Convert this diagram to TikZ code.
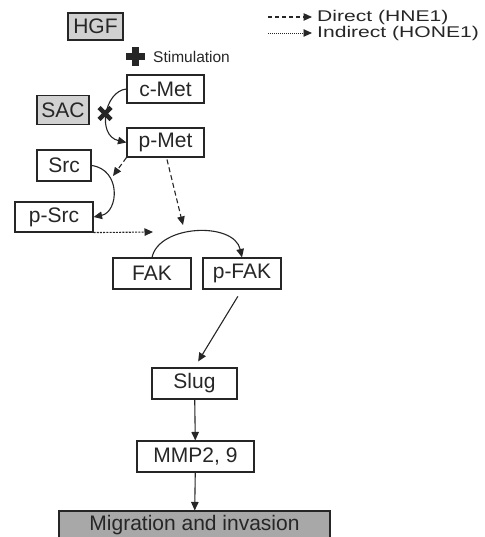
\documentclass[tikz,border=0pt]{standalone}
\usepackage{fontspec}
\setmainfont{Liberation Sans}
\usetikzlibrary{arrows.meta,calc}
\begin{document}
\begin{tikzpicture}[x=1pt,y=-1pt,
 box/.style={draw=black!85, line width=1.1pt, inner sep=0pt, font=\fontsize{21}{24}\selectfont, text=black!85},
 gbox/.style={box, fill=black!18},
 arr/.style={-{Triangle[length=8.5pt,width=7.5pt]}, line width=1.1pt, draw=black!85},
 direct/.style={arr, dash pattern=on 5pt off 3pt},
 indirect/.style={arr, dash pattern=on 2pt off 1.2pt},
 lbl/.style={font=\fontsize{21}{24}\selectfont, anchor=west, inner sep=0pt, text=black!85}]
\useasboundingbox (0,0) rectangle (484,537);
% boxes
\node[gbox, minimum width=55pt, minimum height=27pt] (hgf) at (95.5,26.5) {HGF};
\node[box, minimum width=77pt, minimum height=28pt] (cmet) at (165.5,89) {c-Met};
\node[gbox, minimum width=52pt, minimum height=29pt] (sac) at (63,110) {SAC};
\node[box, minimum width=77pt, minimum height=29pt] (pmet) at (165.5,142.5) {p-Met};
\node[box, minimum width=54pt, minimum height=31pt] (src) at (64,165.5) {Src};
\node[box, minimum width=78pt, minimum height=30pt] (psrc) at (54,217) {p-Src};
\node[box, minimum width=78pt, minimum height=31pt] (fak) at (152,273.5) {FAK};
\node[box, minimum width=78pt, minimum height=31pt] (pfak) at (242,273.5) {p-FAK};
\node[box, minimum width=85pt, minimum height=31pt] (slug) at (194.5,383.5) {Slug};
\node[box, minimum width=117pt, minimum height=31pt] (mmp) at (195.5,456.5) {MMP2, 9};
\node[box, fill=black!34, minimum width=271pt, minimum height=28pt] (mig) at (194.5,525) {Migration and invasion};
% stimulation mark
\fill[black!85] (135.5,56.5) ++(-9.5,-3.8) rectangle ++(19,7.6);
\fill[black!85] (135.5,56.5) ++(-3.8,-9.5) rectangle ++(7.6,19);
\node[lbl, font=\fontsize{15.5}{18}\selectfont] (stim) at (153,56.5) {Stimulation};
% inhibition mark
\draw[line width=4.5pt, black!85] (99,107.5) -- (111,119.5) (111,107.5) -- (99,119.5);
% connectors
\coordinate (srcin) at (113,176);
\coordinate (fakin) at (183,225);
\coordinate (psrcout) at (153,232);
\draw[arr] (cmet.west) .. controls +(-22,2) and +(-30,-7) .. (pmet.west);
\draw[arr] (src.east) .. controls +(30,4) and +(25,-5) .. (psrc.east);
\draw[arr] (fak.north) .. controls +(7,-33) and +(-8,-36) .. (pfak.north);
\draw[direct] (pmet.south west) -- (srcin);
\draw[direct] ($(pmet.south)+(1.5,2)$) -- (fakin);
\draw[indirect] (psrc.south east) -- (psrcout);
\draw[arr, shorten <=8pt, shorten >=7pt] (pfak.south) -- (slug.north);
\draw[arr] (slug) -- (mmp);
\draw[arr] (mmp) -- (mig);
% legend
\coordinate (d1) at (268,17);
\coordinate (i1) at (268,33);
\node[lbl] (ldirect) at (317,17) {\scalebox{1.36}[1]{\fontsize{15.5}{18}\selectfont Direct (HNE1)}};
\node[lbl] (lindirect) at (317,33) {\scalebox{1.36}[1]{\fontsize{15.5}{18}\selectfont Indirect (HONE1)}};
\draw[direct, dash pattern=on 4pt off 3pt, shorten >=5pt] (d1) -- (ldirect.west);
\draw[indirect, line width=0.9pt, dash pattern=on 1.2pt off 0.8pt, shorten >=5pt] (i1) -- (lindirect.west);
\end{tikzpicture}
\end{document}
